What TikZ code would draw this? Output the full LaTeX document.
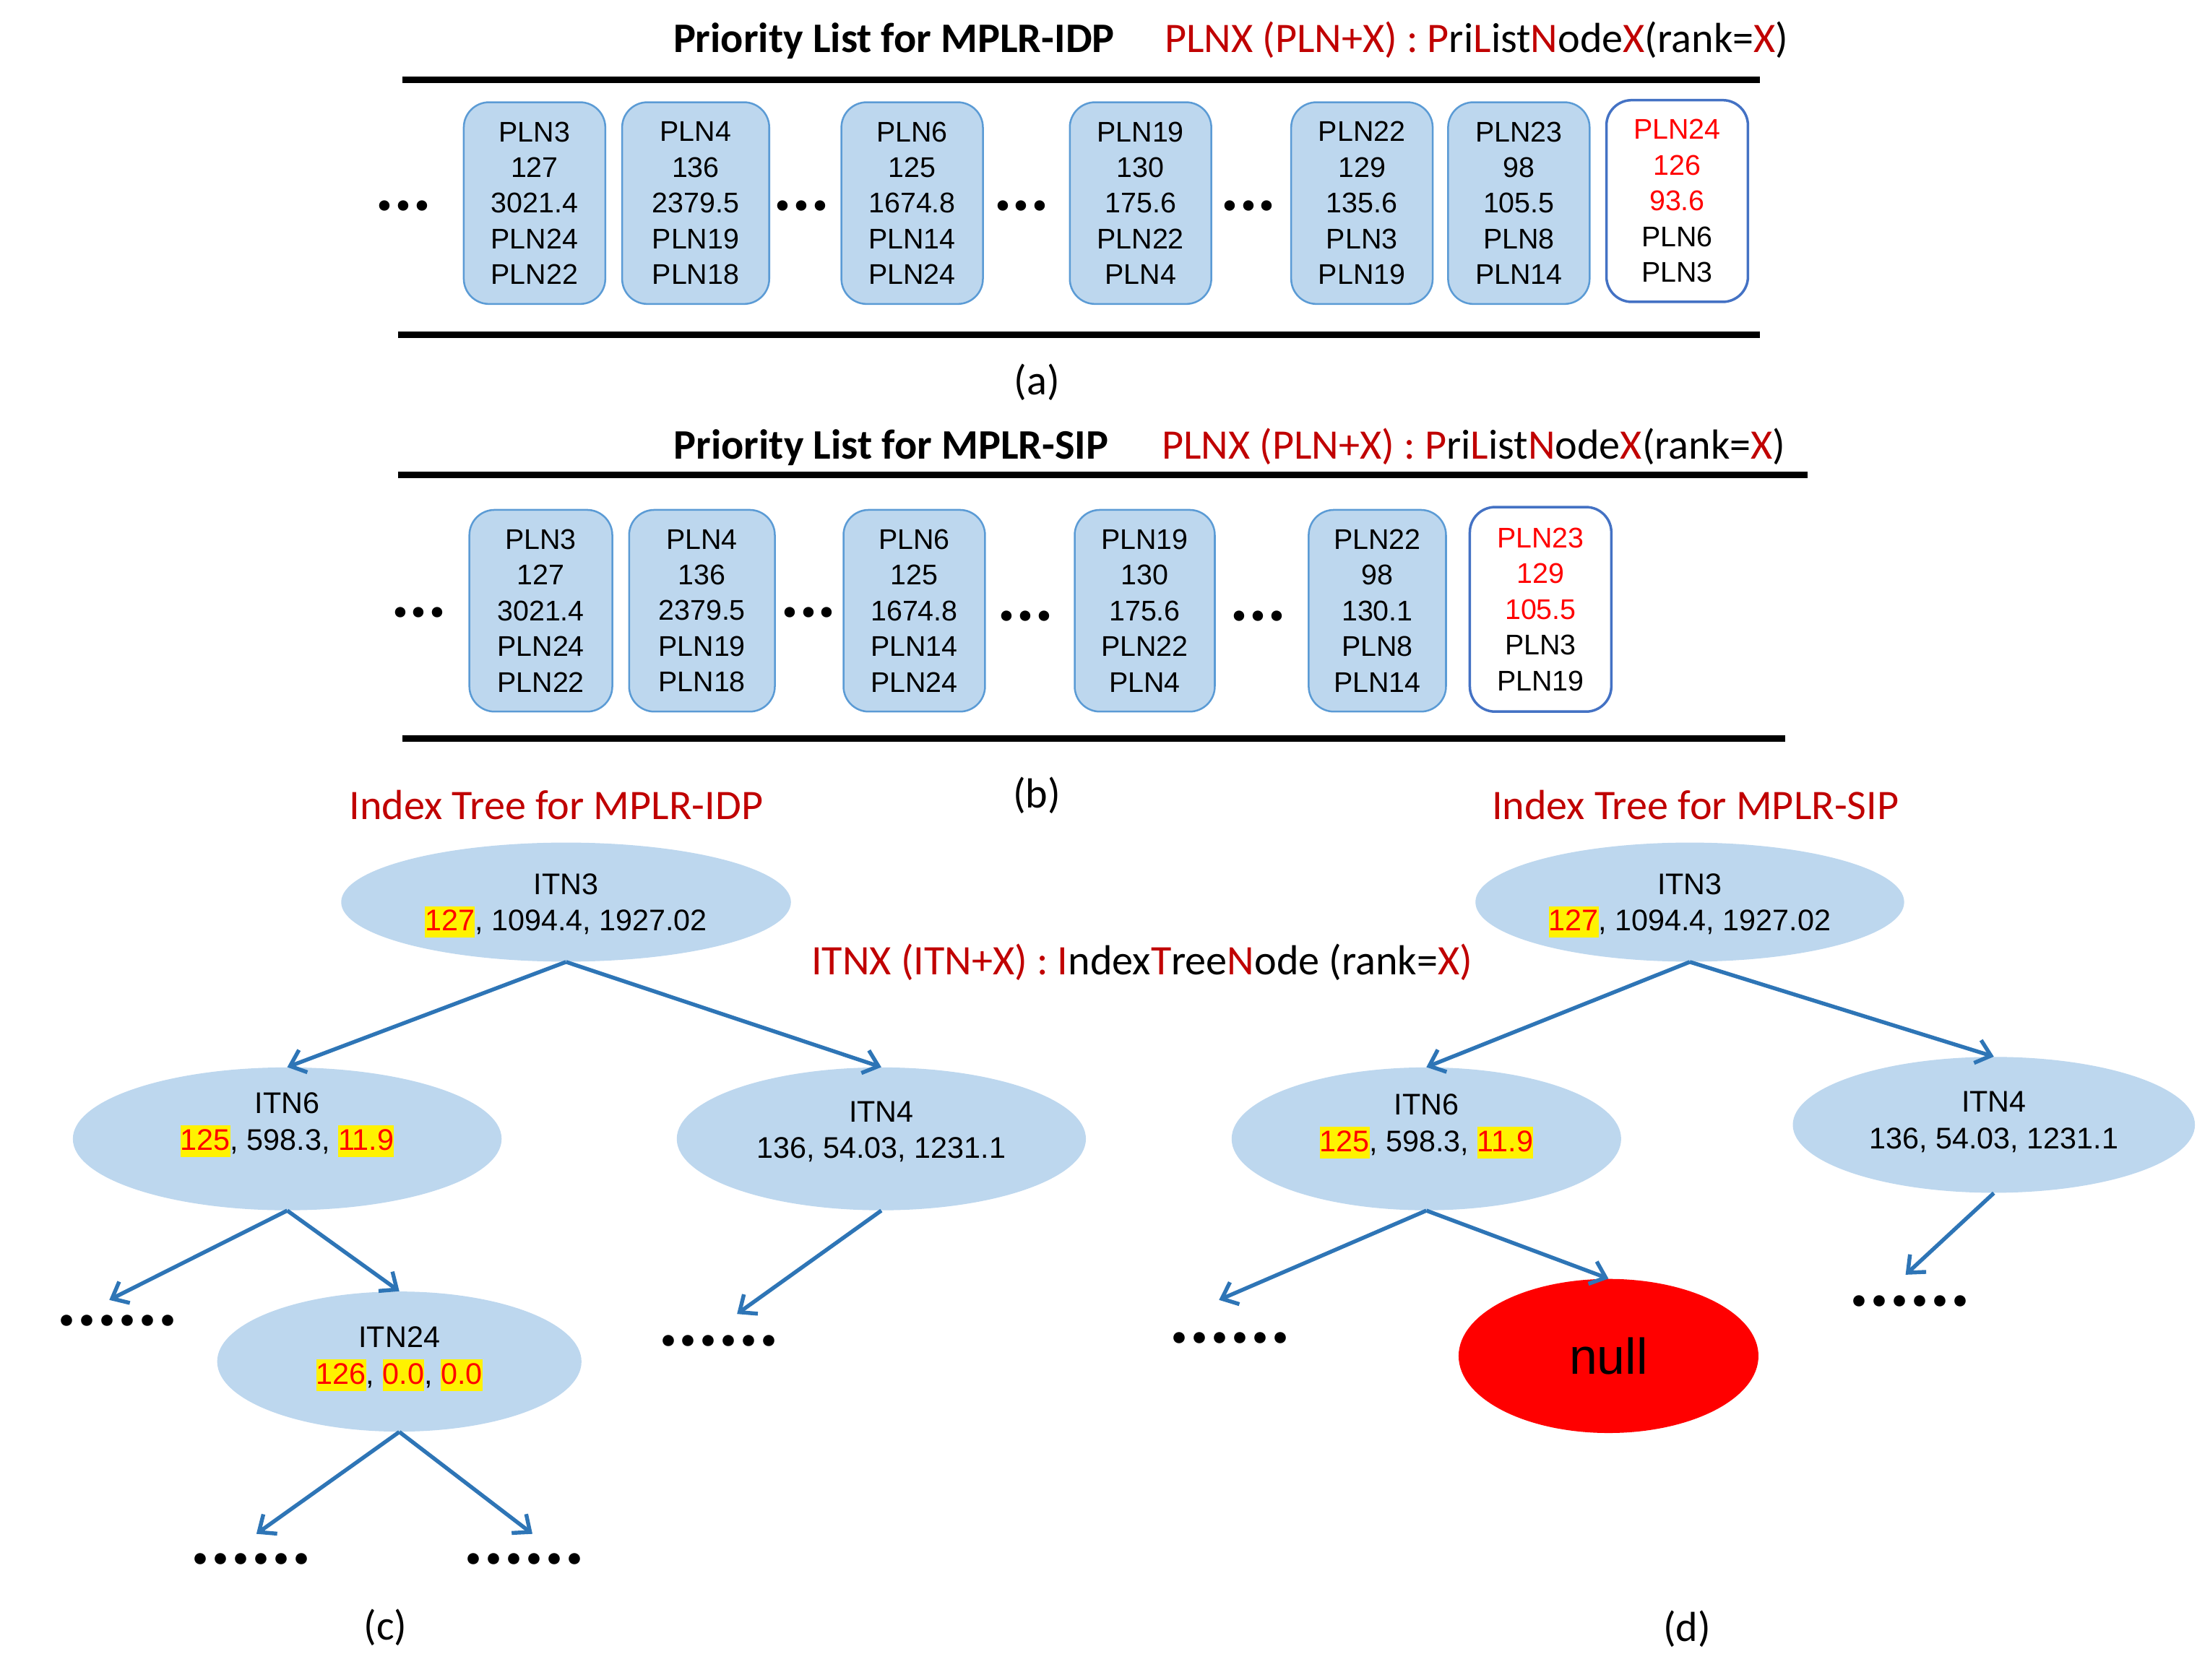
\documentclass[tikz,border=0pt]{standalone}
\usepackage{fontspec}
\setmainfont{Liberation Sans}
\newfontfamily\calfont{Carlito}
\usetikzlibrary{shapes.geometric,arrows.meta,calc}

\definecolor{boxfill}{HTML}{BDD7EE}
\definecolor{boxline}{HTML}{5B9BD5}
\definecolor{keyline}{HTML}{4472C4}
\definecolor{darkred}{HTML}{C00000}
\definecolor{hired}{HTML}{FF0000}
\definecolor{arrowblue}{HTML}{2E75B6}

% highlighted (changed) value inside an index-tree node
\newcommand{\hlnum}[1]{{\setlength{\fboxsep}{0pt}\colorbox{yellow}{\rule[-5pt]{0pt}{22.5pt}\textcolor{hired}{#1}}}}
\newcommand{\dr}[1]{\textcolor{darkred}{#1}}

\tikzset{
  plnbox/.style={rectangle, rounded corners=18pt, draw=boxline, line width=1.3pt,
    fill=boxfill, minimum width=101pt, minimum height=144pt, align=center,
    font=\fontsize{20.3}{25.5}\selectfont, inner sep=0pt},
  newbox/.style={plnbox, fill=white, draw=keyline, line width=1.8pt},
  sectionrule/.style={line width=4.6pt, black},
  dotsthree/.style={font=\calfont\bfseries\fontsize{50}{50}\selectfont, inner sep=0pt},
  dotssix/.style={font=\calfont\bfseries\fontsize{54}{54}\selectfont, inner sep=0pt},
  itn/.style={ellipse, fill=boxfill, inner sep=0pt},
  itntext/.style={align=center, font=\fontsize{21.3}{26}\selectfont, inner sep=0pt},
  headbold/.style={font=\calfont\bfseries\fontsize{30}{36}\selectfont, inner sep=0pt},
  headplain/.style={font=\calfont\fontsize{30}{36}\selectfont, inner sep=0pt},
  caption/.style={font=\calfont\fontsize{30}{36}\selectfont, inner sep=0pt},
  link/.style={draw=arrowblue, line width=2.8pt,
    -{Straight Barb[length=10pt,width=17pt,line width=2.8pt]}},
}

\begin{document}
\begin{tikzpicture}[x=1pt,y=-1pt]
\useasboundingbox (0,0) rectangle (1568,1199);

% ---------------- (a) priority list for MPLR-IDP ----------------
\node[headbold, anchor=base] (titleA) at (638,37.5) {Priority List for MPLR-IDP};
\node[headplain, anchor=base west] (keyA) at (831,37.5)
  {\dr{PLNX (PLN+X) : P}ri\dr{L}ist\dr{N}ode\dr{X}(rank=\dr{X})};
\draw[sectionrule] (287,57) -- (1256,57);
\draw[sectionrule] (284,239) -- (1256,239);

\node[dotsthree] (ad1) at (288,147) {...};
\node[plnbox] (a3)  at (381.5,145) {PLN3\\127\\3021.4\\PLN24\\PLN22};
\node[plnbox, minimum width=105pt] (a4)  at (496.5,145) {PLN4\\136\\2379.5\\PLN19\\PLN18};
\node[dotsthree] (ad2) at (572,147) {...};
\node[plnbox] (a6)  at (651,145) {PLN6\\125\\1674.8\\PLN14\\PLN24};
\node[dotsthree] (ad3) at (729,147) {...};
\node[plnbox] (a19) at (814,145) {PLN19\\130\\175.6\\PLN22\\PLN4};
\node[dotsthree] (ad4) at (891,147) {...};
\node[plnbox] (a22) at (972,145) {PLN22\\129\\135.6\\PLN3\\PLN19};
\node[plnbox] (a23) at (1084,145) {PLN23\\98\\105.5\\PLN8\\PLN14};
\node[newbox] (a24) at (1197,143.5)
  {\textcolor{hired}{PLN24}\\\textcolor{hired}{126}\\\textcolor{hired}{93.6}\\PLN6\\PLN3};
\node[caption] (capA) at (740,273) {(a)};

% ---------------- (b) priority list for MPLR-SIP ----------------
\node[headbold, anchor=base] (titleB) at (636,327.5) {Priority List for MPLR-SIP};
\node[headplain, anchor=base west] (keyB) at (829,327.5)
  {\dr{PLNX (PLN+X) : P}ri\dr{L}ist\dr{N}ode\dr{X}(rank=\dr{X})};
\draw[sectionrule] (284,339) -- (1290,339);
\draw[sectionrule] (287,527) -- (1274,527);

\node[dotsthree] (bd1) at (299,437) {...};
\node[plnbox, minimum width=102pt] (b3)  at (386,436) {PLN3\\127\\3021.4\\PLN24\\PLN22};
\node[plnbox, minimum width=104pt] (b4)  at (501,436) {PLN4\\136\\2379.5\\PLN19\\PLN18};
\node[dotsthree] (bd2) at (577,437) {...};
\node[plnbox] (b6)  at (652.5,436) {PLN6\\125\\1674.8\\PLN14\\PLN24};
\node[dotsthree] (bd3) at (732,440) {...};
\node[plnbox, minimum width=100pt] (b19) at (817,436) {PLN19\\130\\175.6\\PLN22\\PLN4};
\node[dotsthree] (bd4) at (898,440) {...};
\node[plnbox, minimum width=98pt] (b22) at (983,436) {PLN22\\98\\130.1\\PLN8\\PLN14};
\node[newbox, minimum height=146pt] (b23) at (1099.5,435)
  {\textcolor{hired}{PLN23}\\\textcolor{hired}{129}\\\textcolor{hired}{105.5}\\PLN3\\PLN19};
\node[caption] (capB) at (740,568) {(b)};

% ---------------- shared legend for the index trees ----------------
\node[headplain, anchor=base] (keyT) at (815,696)
  {\dr{ITNX (ITN+X) : I}ndex\dr{T}ree\dr{N}ode (rank=\dr{X)}};

% ---------------- (c) index tree for MPLR-IDP ----------------
\node[headplain, anchor=base, text=darkred] (titleC) at (397,585) {Index Tree for MPLR-IDP};

\node[itn, minimum width=321pt, minimum height=85pt]  (c3)  at (404,644) {};
\node[itn, minimum width=306pt, minimum height=102pt] (c6)  at (205,813) {};
\node[itn, minimum width=292pt, minimum height=102pt] (c4)  at (629,813) {};
\node[itn, minimum width=260pt, minimum height=100pt] (c24) at (285,972) {};

\node[itntext] (c3t)  at (404,646.5) {ITN3\\\hlnum{127}, 1094.4, 1927.02};
\node[itntext] (c6t)  at (205,803) {ITN6\\\hlnum{125}, 598.3, \hlnum{11.9}};
\node[itntext] (c4t)  at (629,808) {ITN4\\136, 54.03, 1231.1};
\node[itntext] (c24t) at (285,970) {ITN24\\\hlnum{126}, \hlnum{0.0}, \hlnum{0.0}};

\node[dotssix] (cd1) at (84,943) {......};
\node[dotssix] (cd2) at (513,957) {......};
\node[dotssix] (cd3) at (179,1113) {......};
\node[dotssix] (cd4) at (374,1113) {......};
\coordinate (cx1) at (78,928);
\coordinate (cx2) at (526,938);
\coordinate (cx3) at (183,1095);
\coordinate (cx4) at (380,1095);

\draw[link] (c3.south) -- (c6.north);
\draw[link] (c3.south) -- (c4.north);
\draw[link] (c6.south) -- (cx1);
\draw[link] (c6.south) -- (c24.north);
\draw[link] (c4.south) -- (cx2);
\draw[link] (c24.south) -- (cx3);
\draw[link] (c24.south) -- (cx4);
\node[caption] (capC) at (275,1162) {(c)};

% ---------------- (d) index tree for MPLR-SIP ----------------
\node[headplain, anchor=base, text=darkred] (titleD) at (1210,585) {Index Tree for MPLR-SIP};

\node[itn, minimum width=306pt, minimum height=85pt]  (d3)  at (1206,644) {};
\node[itn, minimum width=278pt, minimum height=102pt] (d6)  at (1018,813) {};
\node[itn, minimum width=287pt, minimum height=97pt]  (d4)  at (1423,803) {};
\node[ellipse, fill=hired, inner sep=0pt, minimum width=214pt, minimum height=110pt,
      font=\fontsize{36}{40}\selectfont] (dnull) at (1148,968) {null};

\node[itntext] (d3t) at (1206,646.5) {ITN3\\\hlnum{127}, 1094.4, 1927.02};
\node[itntext] (d6t) at (1018,804) {ITN6\\\hlnum{125}, 598.3, \hlnum{11.9}};
\node[itntext] (d4t) at (1423,801) {ITN4\\136, 54.03, 1231.1};

\node[dotssix] (dd1) at (878,955) {......};
\node[dotssix] (dd2) at (1363,929) {......};
\coordinate (dx1) at (870,928);
\coordinate (dx2) at (1360,910);

\draw[link] (d3.south) -- (d6.north);
\draw[link] (d3.south) -- (d4.north);
\draw[link] (d6.south) -- (dx1);
\draw[link] (d6.south) -- (dnull.north);
\draw[link] (d4.south) -- (dx2);
\node[caption] (capD) at (1204,1163) {(d)};
\end{tikzpicture}
\end{document}
